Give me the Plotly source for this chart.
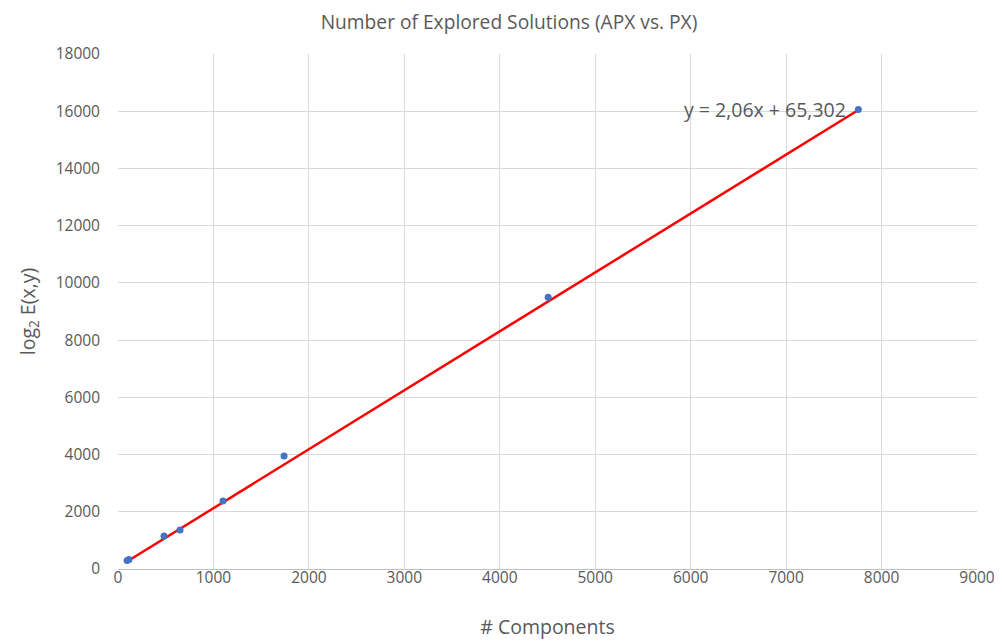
import plotly.graph_objects as go

components = [95, 115, 482, 650, 1100, 1740, 4507, 7757]
explored = [300, 330, 1155, 1365, 2380, 3950, 9500, 16060]
slope = 2.06
intercept = 65.302
trend_label = "y = 2,06x + 65,302"

x_ticks = list(range(0, 9001, 1000))
y_ticks = list(range(0, 18001, 2000))

xmin, xmax = min(components), max(components)
trend_x = [xmin, xmax]
trend_y = [slope * v + intercept for v in trend_x]

font_family = "Open Sans, Liberation Sans, sans-serif"
gray = "#595959"

fig = go.Figure()
fig.add_trace(go.Scatter(x=trend_x, y=trend_y, mode="lines",
                         line=dict(color="#ff0000", width=2.5), showlegend=False,
                         hoverinfo="skip"))
fig.add_trace(go.Scatter(x=components, y=explored, mode="markers",
                         marker=dict(color="#4472C4", size=7), showlegend=False))

fig.add_annotation(x=xmax, y=slope * xmax + intercept, text=trend_label,
                   showarrow=False, xanchor="right", yanchor="middle", xshift=-10,
                   font=dict(family=font_family, size=19.5, color=gray))

fig.update_layout(
    width=1002, height=641,
    margin=dict(l=110, r=33, t=46, b=80),
    paper_bgcolor="white", plot_bgcolor="white",
    title=dict(text="Number of Explored Solutions (APX vs. PX)", x=0.5, xanchor="center",
               yref="container", y=0.977, yanchor="middle",
               font=dict(family=font_family, size=19.2, color=gray)),
    font=dict(family=font_family, size=15, color=gray),
    xaxis=dict(range=[0, 9000], tickvals=x_ticks, ticktext=[str(v) for v in x_ticks],
               showgrid=True, gridcolor="#d9d9d9", gridwidth=1, automargin=False,
               zeroline=False, showline=True, linecolor="#bfbfbf", linewidth=1,
               ticks="", tickfont=dict(size=15.5, color=gray), ticklabelstandoff=-6,
               title=dict(text="# Components", font=dict(size=19.5, color=gray), standoff=33)),
    yaxis=dict(range=[0, 18000], tickvals=y_ticks, ticktext=[str(v) for v in y_ticks],
               showgrid=True, gridcolor="#d9d9d9", gridwidth=1, automargin=False,
               zeroline=False, showline=False, ticks="", ticklabelstandoff=17,
               tickfont=dict(size=15.5, color=gray),
               title=dict(text="log<sub>2</sub> E(x,y)", font=dict(size=19.5, color=gray), standoff=14)),
)

fig.write_html("out.html")
